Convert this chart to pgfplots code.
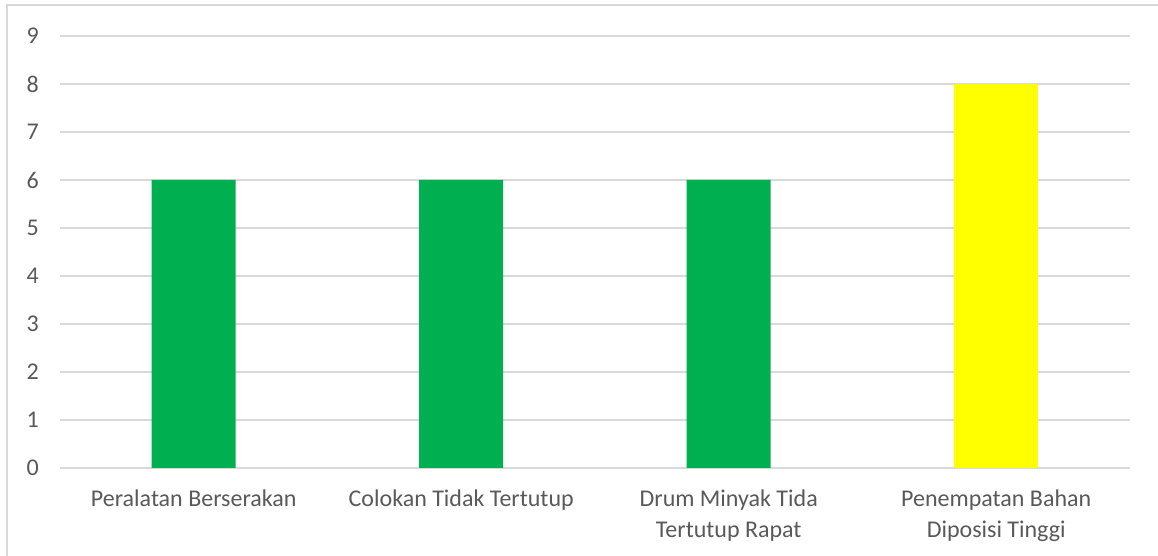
\documentclass[border=0pt]{standalone}
\usepackage{pgfplots}
\pgfplotsset{compat=1.18}
\usepackage{fontspec}
\setmainfont{Carlito}
\definecolor{gridc}{HTML}{D9D9D9}
\definecolor{txt}{HTML}{595959}
\definecolor{barg}{HTML}{00B050}
\definecolor{bary}{HTML}{FFFF00}
\begin{document}
\begin{tikzpicture}[x=1pt,y=1pt]
\useasboundingbox (-60,-88) rectangle (1098,468);
\draw[gridc, line width=1.5pt] (-53,-88) -- (-53,463) -- (1098,463);
\begin{axis}[
  at={(0,0)}, anchor=south west,
  scale only axis,
  width=1070pt, height=432pt,
  xmin=-0.5, xmax=3.5, ymin=0, ymax=9,
  axis line style={draw=none},
  major tick length=0pt,
  ytick={0,1,...,9},
  xtick={0,1,2,3},
  xticklabels={{Peralatan Berserakan},{Colokan Tidak Tertutup},{Drum Minyak Tida\\Tertutup Rapat},{Penempatan Bahan\\Diposisi Tinggi}},
  ymajorgrids,
  major grid style={draw=gridc, line width=1.3pt},
  /pgf/number format/assume math mode=true,
  tick label style={font=\fontsize{24}{31}\selectfont, text=txt},
  yticklabel style={anchor=east, inner sep=0pt, xshift=-21pt},
  xticklabel style={align=center, anchor=north, inner sep=0pt, yshift=-22pt},
  ybar, bar width=84pt, bar shift=0pt,
]
\addplot[draw=none, fill=barg] coordinates {(0,6) (1,6) (2,6)};
\addplot[draw=none, fill=bary] coordinates {(3,8)};
\end{axis}
\end{tikzpicture}
\end{document}
